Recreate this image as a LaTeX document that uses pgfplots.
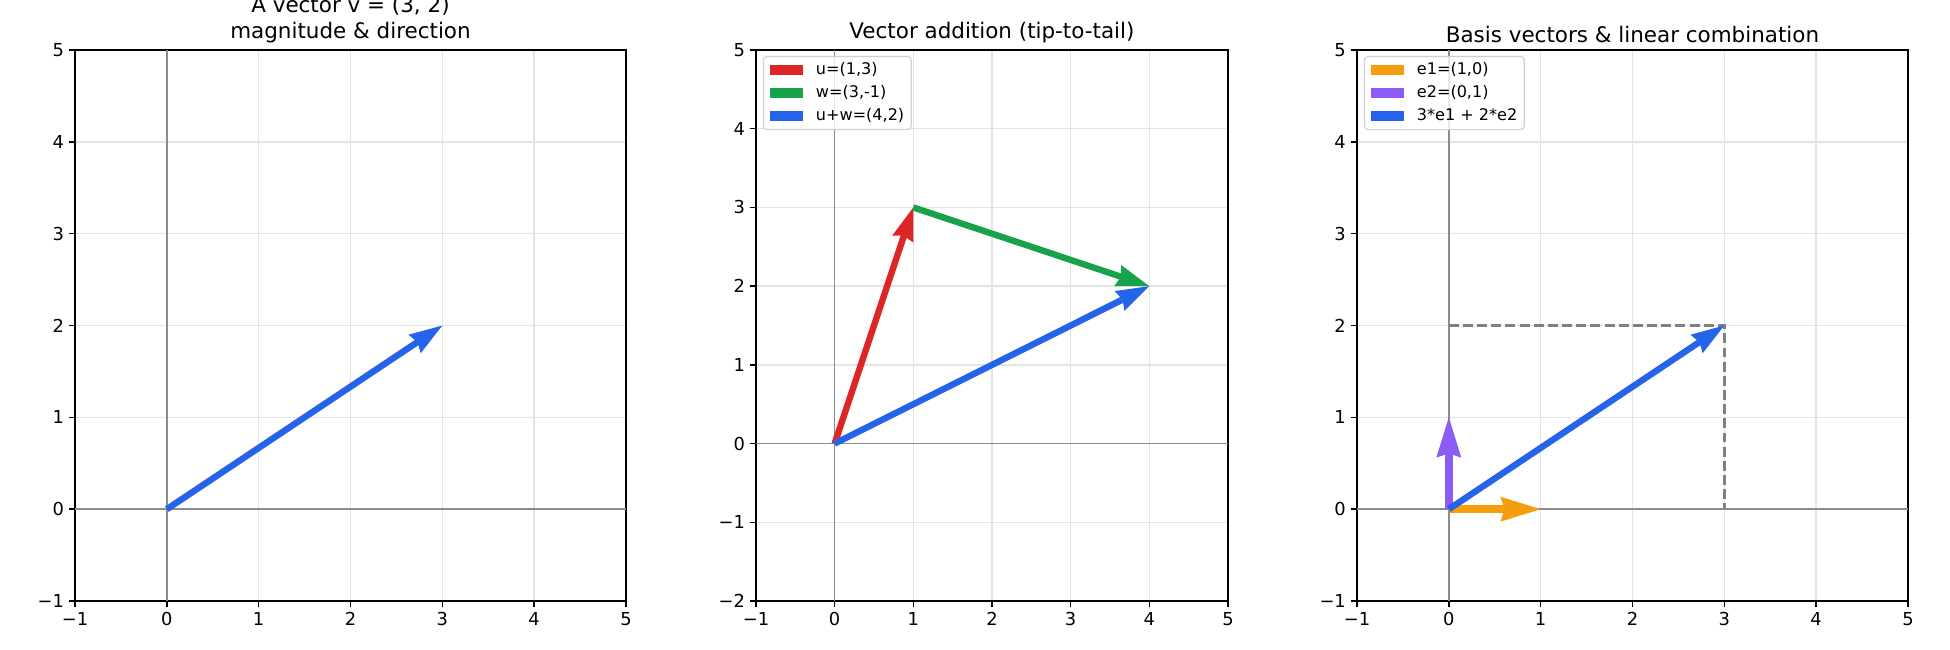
\documentclass[border=0pt]{standalone}
\usepackage{pgfplots}
\pgfplotsset{compat=1.18}
\usepackage{fontspec}
\setmainfont{DejaVu Sans}
\usetikzlibrary{arrows.meta}

\definecolor{cred}{HTML}{DC2626}
\definecolor{cgreen}{HTML}{16A34A}
\definecolor{cblue}{HTML}{2563EB}
\definecolor{corange}{HTML}{F59E0B}
\definecolor{cpurple}{HTML}{8B5CF6}
\definecolor{gridc}{HTML}{E4E4E4}
\definecolor{zeroc}{HTML}{8C8C8C}
\definecolor{legc}{HTML}{D0D0D0}

\pgfplotsset{
  panel/.style={
    scale only axis, height=396.7bp,
    xmin=-1, xmax=5, xtick={-1,0,...,5}, xticklabels={−1,0,1,2,3,4,5},
    grid=major, major grid style={gridc, line width=1bp},
    axis line style={black, line width=1bp},
    tick style={black, line width=1bp},
    major tick length=4.5bp, tick align=outside, tick pos=left,
    ticklabel style={font=\fontsize{12.9}{15}\selectfont},
    title style={font=\fontsize{15.5}{18.6}\selectfont, at={(0.5,1)}, anchor=south,
      yshift=-1bp, inner sep=0pt, align=center},
    legend style={at={(0,1)}, anchor=north west, xshift=5bp, yshift=-4.3bp,
      draw=legc, line width=0.8bp, rounded corners=2.5bp, fill=white, fill opacity=0.8,
      text opacity=1, font=\fontsize{11.6}{13.5}\selectfont,
      inner xsep=5bp, inner ysep=4bp, row sep=5.2bp, column sep=9bp,
      nodes={inner sep=0pt, text height=8.8bp, text depth=2.6bp}},
    legend cell align=left,
    legend image code/.code={\fill[##1, draw=none, fill opacity=1, sharp corners]
      (0bp,-3.85bp) rectangle (23.8bp,3.85bp);},
  },
  vec/.style={line width=4.6bp, line cap=butt,
    -{Stealth[length=24bp, width=16bp, inset=2.5bp, line width=0pt]}},
  bvec/.style={line width=5.4bp, line cap=butt,
    -{Stealth[length=29bp, width=18bp, inset=3bp, line width=0pt]}},
  zero/.style={zeroc, line width=1bp, forget plot},
}

\begin{document}
\begin{tikzpicture}[x=0.72bp, y=0.72bp]
\useasboundingbox (0,0) rectangle (1950,650);

% panel 1: one vector
\begin{axis}[panel, at={(54bp,35.28bp)}, anchor=south west, width=396.7bp,
  ymin=-1, ymax=5, ytick={-1,0,...,5}, yticklabels={−1,0,1,2,3,4,5},
  title={A vector v = (3, 2)\\magnitude \& direction}]
\addplot[zero] coordinates {(-1,0) (5,0)};
\addplot[zero] coordinates {(0,-1) (0,5)};
\addplot[cblue, vec] coordinates {(0,0) (3,2)};
\end{axis}

% panel 2: tip-to-tail addition
\begin{axis}[panel, at={(544.3bp,35.28bp)}, anchor=south west, width=339.8bp,
  ymin=-2, ymax=5, ytick={-2,-1,0,...,5}, yticklabels={−2,−1,0,1,2,3,4,5},
  title={Vector addition (tip-to-tail)}]
\addplot[zero] coordinates {(-1,0) (5,0)};
\addplot[zero] coordinates {(0,-2) (0,5)};
\addplot[cred, vec] coordinates {(0,0) (1,3)};
\addlegendentry{u=(1,3)}
\addplot[cgreen, vec] coordinates {(1,3) (4,2)};
\addlegendentry{w=(3,-1)}
\addplot[cblue, vec] coordinates {(0,0) (4,2)};
\addlegendentry{u+w=(4,2)}
\end{axis}

% panel 3: basis vectors
\begin{axis}[panel, at={(977bp,35.28bp)}, anchor=south west, width=396.7bp,
  ymin=-1, ymax=5, ytick={-1,0,...,5}, yticklabels={−1,0,1,2,3,4,5},
  title={Basis vectors \& linear combination}]
\addplot[zero] coordinates {(-1,0) (5,0)};
\addplot[zero] coordinates {(0,-1) (0,5)};
\addplot[gray, line width=1.9bp, dash pattern=on 7.1bp off 3.1bp, forget plot]
  coordinates {(0,2) (3,2) (3,0)};
\addplot[corange, bvec] coordinates {(0,0) (1,0)};
\addlegendentry{e1=(1,0)}
\addplot[cpurple, bvec] coordinates {(0,0) (0,1)};
\addlegendentry{e2=(0,1)}
\addplot[cblue, vec] coordinates {(0,0) (3,2)};
\addlegendentry{3*e1 + 2*e2}
\end{axis}
\end{tikzpicture}
\end{document}
